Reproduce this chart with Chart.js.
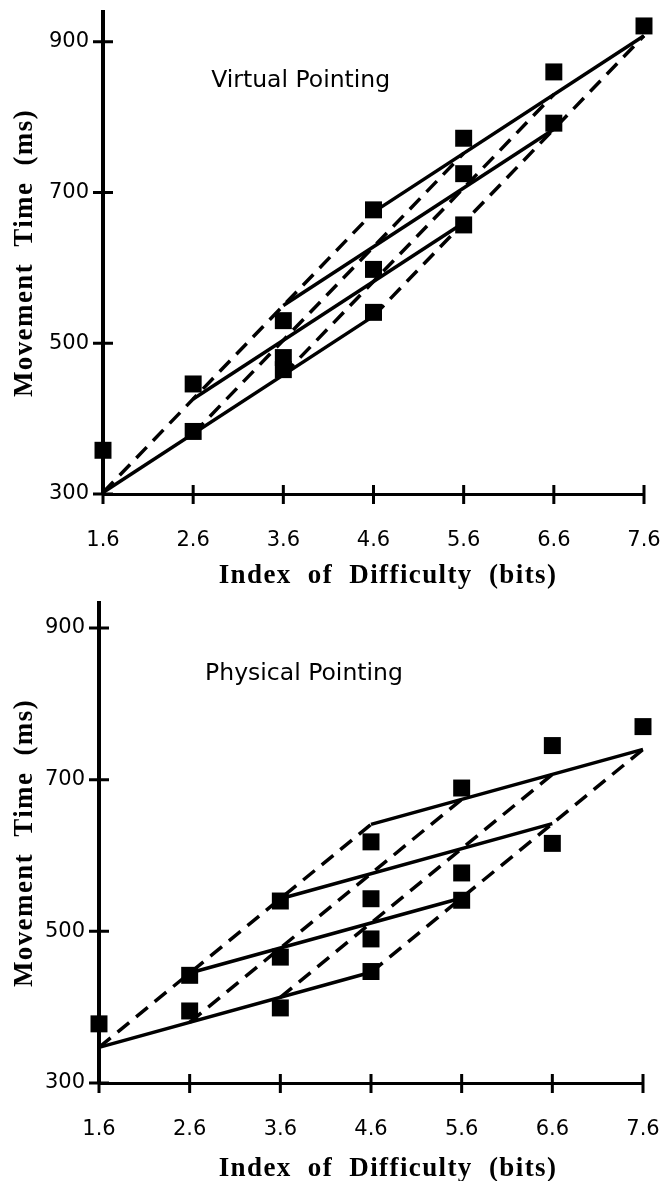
<!DOCTYPE html>
<html>
<head>
<meta charset="utf-8">
<script src="https://cdn.jsdelivr.net/npm/chart.js@4.4.1/dist/chart.umd.min.js"></script>
<style>
  html, body { margin: 0; padding: 0; background: #fff; }
  body { width: 667px; height: 1181px; position: relative; overflow: hidden; }
  canvas { position: absolute; left: 0; }
  #virtual { top: 0; }
  #physical { top: 590px; }
</style>
</head>
<body>
<canvas id="virtual" width="667" height="590"></canvas>
<canvas id="physical" width="667" height="591"></canvas>
<script>
// index of difficulty (bits) and the time ticks
const ids = [1.6, 2.6, 3.6, 4.6, 5.6, 6.6, 7.6]
const timeTicks = [300, 500, 700, 900]

// observed movement times (ms), one list per ID
const virtualTimes = [[358], [446, 383], [530, 481, 465], [677, 598, 541], [772, 725, 657], [860, 792], [921]]
const physicalTimes = [[378], [442, 395], [540, 466, 399], [618, 543, 490, 447], [689, 577, 541], [745, 616], [770]]

// model lines, line k runs from ids[k] to ids[k + 3]
const virtualSolidFrom = [302, 426, 550, 674]
const virtualSolidTo = [536, 660, 784, 908]
const virtualDashFrom = [302, 380, 458, 536]
const virtualDashTo = [674, 752, 830, 908]

const physicalSolidFrom = [347, 445, 543, 641]
const physicalSolidTo = [446, 544, 642, 740]
const physicalDashFrom = [347, 380, 413, 446]
const physicalDashTo = [641, 674, 707, 740]

function lineSet(k, from, to, dash) {
  return {
    data: [{ x: ids[k], y: from }, { x: ids[k + 3], y: to }],
    showLine: true,
    pointRadius: 0,
    borderColor: '#000',
    borderWidth: 3.5,
    borderDash: dash,
    clip: false,
  }
}

function buildDatasets(times, solidFrom, solidTo, dashFrom, dashTo) {
  const squares = []
  times.forEach((list, i) => list.forEach(v => squares.push({ x: ids[i], y: v })))
  const sets = [{
    data: squares,
    showLine: false,
    pointStyle: 'rect',
    pointRadius: 12,
    pointBackgroundColor: '#000',
    pointBorderWidth: 0,
    clip: false,
  }]
  solidFrom.forEach((v, k) => sets.push(lineSet(k, v, solidTo[k], [])))
  dashFrom.forEach((v, k) => sets.push(lineSet(k, v, dashTo[k], [15, 9])))
  return sets
}

// crossing tick marks, the panel label and the serif axis titles
const framePlugin = {
  id: 'frame',
  afterDraw(chart, args, opts) {
    const { ctx, chartArea: area, scales: { x, y } } = chart
    ctx.save()
    ctx.strokeStyle = '#000'
    ctx.lineWidth = 3
    ctx.beginPath()
    y.ticks.forEach(t => {
      const py = y.getPixelForValue(t.value)
      ctx.moveTo(area.left - 10, py)
      ctx.lineTo(area.left + 10, py)
    })
    x.ticks.forEach(t => {
      const px = x.getPixelForValue(t.value)
      ctx.moveTo(px, area.bottom - 9)
      ctx.lineTo(px, area.bottom + 10)
    })
    ctx.stroke()

    ctx.fillStyle = '#000'
    ctx.textBaseline = 'alphabetic'
    ctx.textAlign = 'left'
    ctx.font = '23.5px "DejaVu Sans", sans-serif'
    ctx.fillText(opts.note, x.getPixelForValue(opts.noteAt[0]), y.getPixelForValue(opts.noteAt[1]))

    ctx.font = 'bold 27px "Liberation Serif", "Times New Roman", serif'
    ctx.letterSpacing = '1.4px'
    ctx.wordSpacing = '8px'
    ctx.textAlign = 'center'
    ctx.fillText('Index of Difficulty (bits)', opts.xTitleX, area.bottom + opts.xTitleGap)
    ctx.translate(32, (area.top + area.bottom) / 2)
    ctx.rotate(-Math.PI / 2)
    ctx.fillText('Movement Time (ms)', 0, 0)
    ctx.restore()
  },
}

function makeChart(id, times, lines, cfg) {
  const tickFont = { family: '"DejaVu Sans", sans-serif', size: 21 }
  return new Chart(document.getElementById(id), {
    type: 'scatter',
    data: { datasets: buildDatasets(times, ...lines) },
    options: {
      responsive: false,
      animation: false,
      events: [],
      layout: { padding: { top: cfg.top, right: cfg.right, left: 0, bottom: 0 } },
      plugins: {
        legend: { display: false },
        tooltip: { enabled: false },
        frame: { note: cfg.note, noteAt: cfg.noteAt, xTitleX: 388, xTitleGap: cfg.xTitleGap },
      },
      scales: {
        x: {
          type: 'linear',
          min: 1.6,
          max: 7.6,
          afterBuildTicks: s => { s.ticks = ids.map(v => ({ value: v })) },
          afterFit: s => {
            s.height = cfg.height - cfg.bottom
            s.paddingLeft = 0
            s.paddingRight = 0
          },
          grid: { display: false, drawTicks: false },
          border: { color: '#000', width: 3 },
          ticks: {
            color: '#000',
            font: tickFont,
            padding: 34,
            maxRotation: 0,
            autoSkip: false,
            callback: v => v.toFixed(1),
          },
        },
        y: {
          type: 'linear',
          min: 300,
          max: cfg.yMax,
          afterBuildTicks: s => { s.ticks = timeTicks.map(v => ({ value: v })) },
          afterFit: s => {
            s.width = cfg.left
            s.paddingTop = 0
            s.paddingBottom = 0
          },
          grid: { display: false, drawTicks: false },
          border: { color: '#000', width: 4 },
          ticks: { color: '#000', font: tickFont, padding: 14, callback: v => String(v) },
        },
      },
    },
    plugins: [framePlugin],
  })
}

makeChart('virtual', virtualTimes,
  [virtualSolidFrom, virtualSolidTo, virtualDashFrom, virtualDashTo],
  { height: 590, top: 8, left: 103, right: 23, bottom: 494, yMax: 939.5,
    note: 'Virtual Pointing', noteAt: [2.8, 840], xTitleGap: 89 })

makeChart('physical', physicalTimes,
  [physicalSolidFrom, physicalSolidTo, physicalDashFrom, physicalDashTo],
  { height: 591, top: 13, left: 99, right: 24, bottom: 493, yMax: 933,
    note: 'Physical Pointing', noteAt: [2.77, 831], xTitleGap: 93 })
</script>
</body>
</html>
